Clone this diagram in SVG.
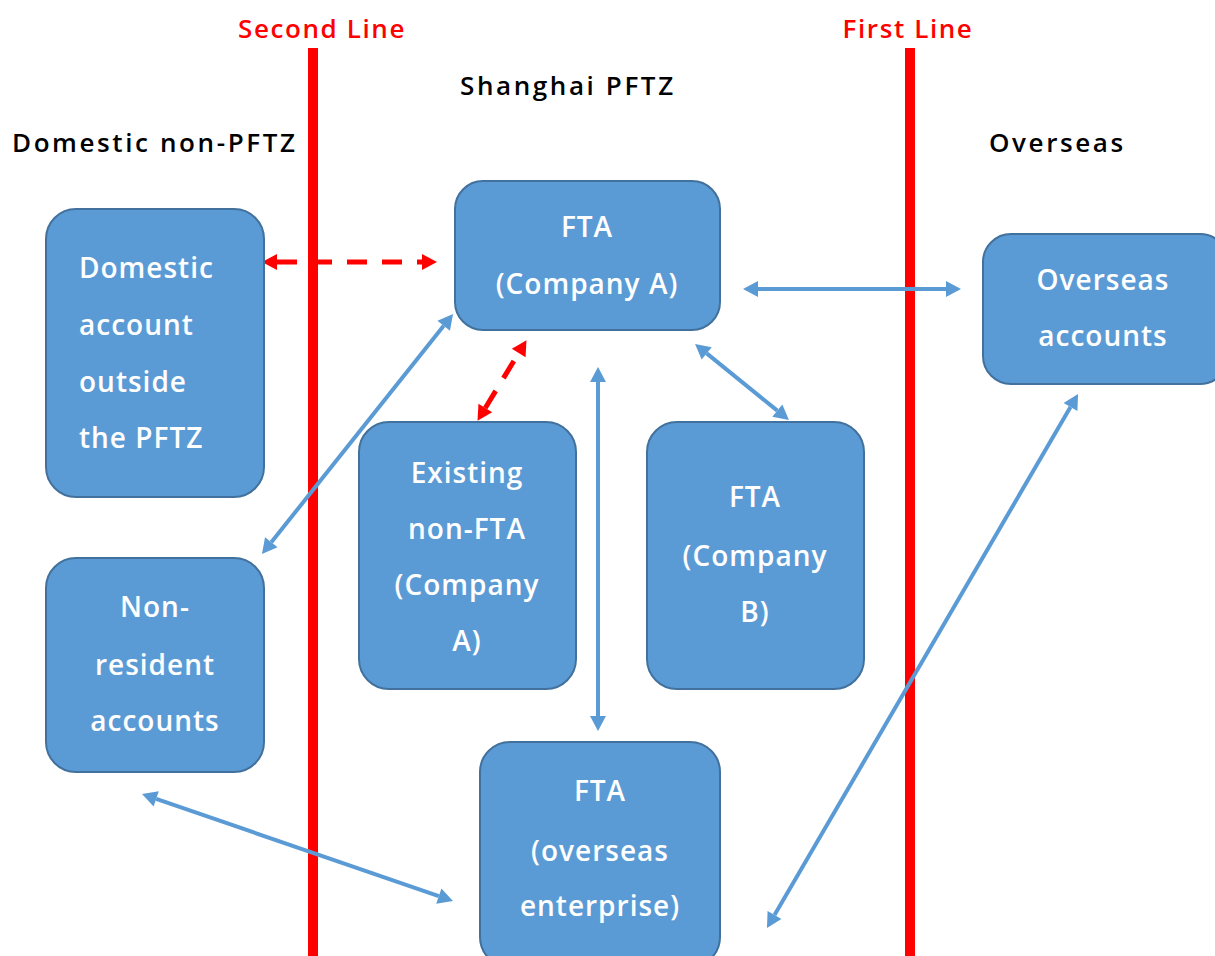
<svg xmlns="http://www.w3.org/2000/svg" width="1215" height="956" viewBox="0 0 1215 956">
<style>
.box{fill:#5B9BD5;stroke:#41719C;stroke-width:2}
.bt{font-family:"Open Sans","Noto Sans",sans-serif;font-size:28px;font-weight:600;fill:#fff;text-anchor:middle;letter-spacing:1px}
.bl{font-family:"Open Sans","Noto Sans",sans-serif;font-size:28px;font-weight:600;fill:#fff;letter-spacing:1px}
.hd{font-family:"Open Sans","Noto Sans",sans-serif;font-size:26px;font-weight:600;fill:#000;letter-spacing:2.6px}
.rd{font-family:"Open Sans","Noto Sans",sans-serif;font-size:26px;font-weight:600;fill:#FF0000;text-anchor:middle;letter-spacing:1.6px}
.wall{stroke:#FF0000;stroke-width:10}
.bc{stroke:#5B9BD5;stroke-width:4;fill:none;marker-start:url(#ab);marker-end:url(#ab)}
.rc{stroke:#FF0000;stroke-width:5;fill:none;stroke-dasharray:20 15;marker-start:url(#ar);marker-end:url(#ar)}
</style>
<defs>
<marker id="ab" markerUnits="userSpaceOnUse" markerWidth="16" markerHeight="16" refX="0" refY="8" orient="auto-start-reverse" overflow="visible"><path d="M0,0 L15,8 L0,16 z" fill="#5B9BD5"/></marker>
<marker id="ar" markerUnits="userSpaceOnUse" markerWidth="16" markerHeight="16" refX="0" refY="8" orient="auto-start-reverse" overflow="visible"><path d="M0,0 L15,8 L0,16 z" fill="#FF0000"/></marker>
</defs>
<rect width="1215" height="956" fill="#fff"/>
<g id="boundaries">
<line class="wall" x1="313" y1="48" x2="313" y2="956"/>
<line class="wall" x1="910" y1="48" x2="910" y2="956"/>
<text class="rd" x="322" y="38">Second Line</text>
<text class="rd" x="908" y="38">First Line</text>
<text class="hd" x="460" y="95">Shanghai PFTZ</text>
<text class="hd" x="12" y="152">Domestic non-PFTZ</text>
<text class="hd" x="989" y="152">Overseas</text>
</g>
<g id="connectors">
<line class="rc" x1="277" y1="262" x2="422" y2="262"/>
<line class="rc" x1="485.3" y1="408" x2="518.7" y2="353"/>
<line class="bc" x1="758" y1="289" x2="946" y2="289"/>
<line class="bc" x1="706.7" y1="353.4" x2="777.3" y2="410.6"/>
<line class="bc" x1="598" y1="382" x2="598" y2="716"/>
<line class="bc" x1="443.7" y1="325.7" x2="271.3" y2="542.3"/>
<line class="bc" x1="156.2" y1="798.9" x2="438.8" y2="896.1"/>
<line class="bc" x1="1070.5" y1="407" x2="774.5" y2="915"/>
</g>
<g id="domestic">
<rect class="box" x="46" y="209" width="218" height="288" rx="30"/>
<text class="bl" x="79" y="278">Domestic</text>
<text class="bl" x="79" y="335">account</text>
<text class="bl" x="79" y="392">outside</text>
<text class="bl" x="79" y="448">the PFTZ</text>
</g>
<g id="fta-a">
<rect class="box" x="455" y="181" width="265" height="149" rx="28"/>
<text class="bt" x="587" y="237">FTA</text>
<text class="bt" x="587" y="294">(Company A)</text>
</g>
<g id="non-fta">
<rect class="box" x="359" y="422" width="217" height="267" rx="30"/>
<text class="bt" x="467" y="483">Existing</text>
<text class="bt" x="467" y="539">non-FTA</text>
<text class="bt" x="467" y="595">(Company</text>
<text class="bt" x="467" y="651">A)</text>
</g>
<g id="fta-b">
<rect class="box" x="647" y="422" width="217" height="267" rx="30"/>
<text class="bt" x="755" y="507">FTA</text>
<text class="bt" x="755" y="566">(Company</text>
<text class="bt" x="755" y="622">B)</text>
</g>
<g id="non-resident">
<rect class="box" x="46" y="558" width="218" height="214" rx="30"/>
<text class="bt" x="155" y="617">Non-</text>
<text class="bt" x="155" y="675">resident</text>
<text class="bt" x="155" y="731">accounts</text>
</g>
<g id="fta-overseas">
<rect class="box" x="480" y="742" width="240" height="225" rx="30"/>
<text class="bt" x="600" y="801">FTA</text>
<text class="bt" x="600" y="861">(overseas</text>
<text class="bt" x="600" y="916">enterprise)</text>
</g>
<g id="overseas-accounts">
<rect class="box" x="983" y="234" width="245" height="150" rx="28"/>
<text class="bt" x="1103" y="290">Overseas</text>
<text class="bt" x="1103" y="346">accounts</text>
</g>
</svg>
